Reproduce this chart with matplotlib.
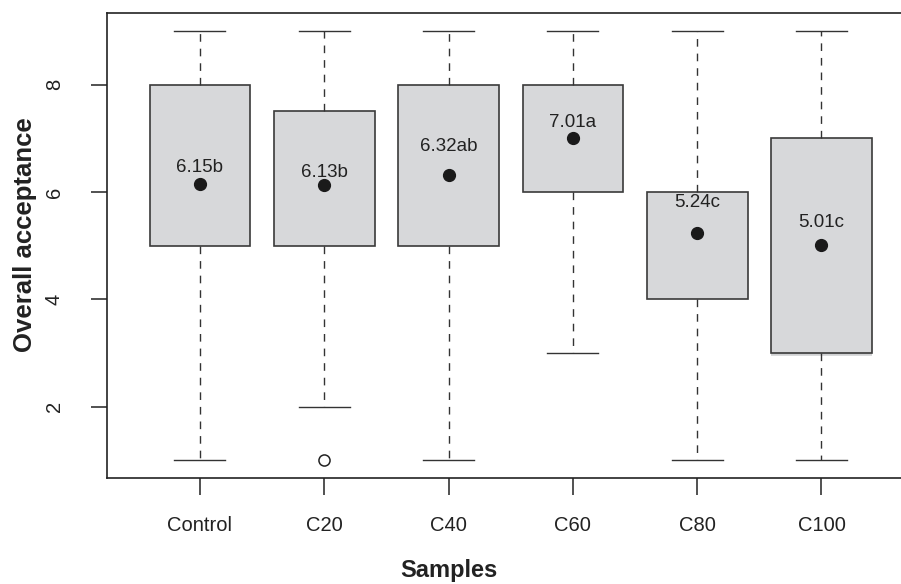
import matplotlib
matplotlib.use("Agg")
import matplotlib.pyplot as plt

plt.rcParams['font.family'] = ['Liberation Sans', 'DejaVu Sans']

samples = ["Control", "C20", "C40", "C60", "C80", "C100"]
whisk_lo = [1, 2, 1, 3, 1, 1]
q1 = [5, 5, 5, 6, 4, 3]
medians = [6, 6, 6, 7, 5, 3]
q3 = [8, 7.5, 8, 8, 6, 7]
whisk_hi = [9, 9, 9, 9, 9, 9]
outliers = [[], [1], [], [], [], []]
means = [6.15, 6.13, 6.32, 7.01, 5.24, 5.01]
letters = ["b", "b", "ab", "a", "c", "c"]

# label offsets above the mean dot (points)
label_off = [11.5, 9, 20, 11, 22, 16.5]

stats = []
for i in range(len(samples)):
    stats.append(dict(label=samples[i], whislo=whisk_lo[i], q1=q1[i], med=medians[i],
                      q3=q3[i], whishi=whisk_hi[i], fliers=outliers[i], mean=means[i]))

fig = plt.figure(figsize=(9.01, 5.84), dpi=100)
ax = fig.add_axes([0.1193, 0.1815, 0.8951, 0.797])

pos = list(range(1, len(samples) + 1))
bp = ax.bxp(stats, positions=pos, widths=0.81, capwidths=0.41, patch_artist=True,
            showmeans=True, showfliers=True,
            boxprops=dict(facecolor='#d7d8da', edgecolor='#3a3a3a', linewidth=1.2),
            whiskerprops=dict(color='#333333', linewidth=1.0, linestyle=(0, (5.5, 5))),
            capprops=dict(color='#333333', linewidth=1.0),
            medianprops=dict(color='#cfd0d2', linewidth=4),
            meanprops=dict(marker='o', markerfacecolor='#1a1a1a', markeredgecolor='#1a1a1a',
                           markersize=8.5),
            flierprops=dict(marker='o', markerfacecolor='white', markeredgecolor='#222222',
                            markersize=8, markeredgewidth=1.1))
for b in bp['boxes']:
    b.set_zorder(2)
for m in bp['medians']:
    m.set_zorder(1.5)
for m in bp['means']:
    m.set_zorder(4)

for x, m, l, off in zip(pos, means, letters, label_off):
    ax.annotate(f"{m:.2f}{l}", (x, m), xytext=(0, off), textcoords='offset points',
                ha='center', va='center', fontsize=13.5, color='#222222', zorder=5)

ax.set_xlim(0.256, 6.744)
ax.set_ylim(0.674, 9.34)
ax.set_yticks([2, 4, 6, 8])
ax.set_yticklabels(["2", "4", "6", "8"], rotation=90, va='center')
ax.set_xticks(pos)
ax.set_xticklabels(samples)
ax.tick_params(axis='y', length=11.5, width=1.1, pad=20, labelsize=14.5, colors='#222222')
ax.tick_params(axis='x', length=12, width=1.1, pad=15, labelsize=14.5, colors='#222222')

for s in ['top', 'left', 'bottom', 'right']:
    ax.spines[s].set_color('#222222')
    ax.spines[s].set_linewidth(1.2)

ax.set_xlabel("Samples", fontsize=17, fontweight='bold', color='#222222')
ax.set_ylabel("Overall acceptance", fontsize=18.5, fontweight='bold', color='#222222')
ax.xaxis.set_label_coords(0.4234, -0.198)
ax.yaxis.set_label_coords(-0.1023, 0.522)
ax.xaxis.label.set_va('center')
ax.yaxis.label.set_va('center')

fig.savefig("out.png", dpi=100)
